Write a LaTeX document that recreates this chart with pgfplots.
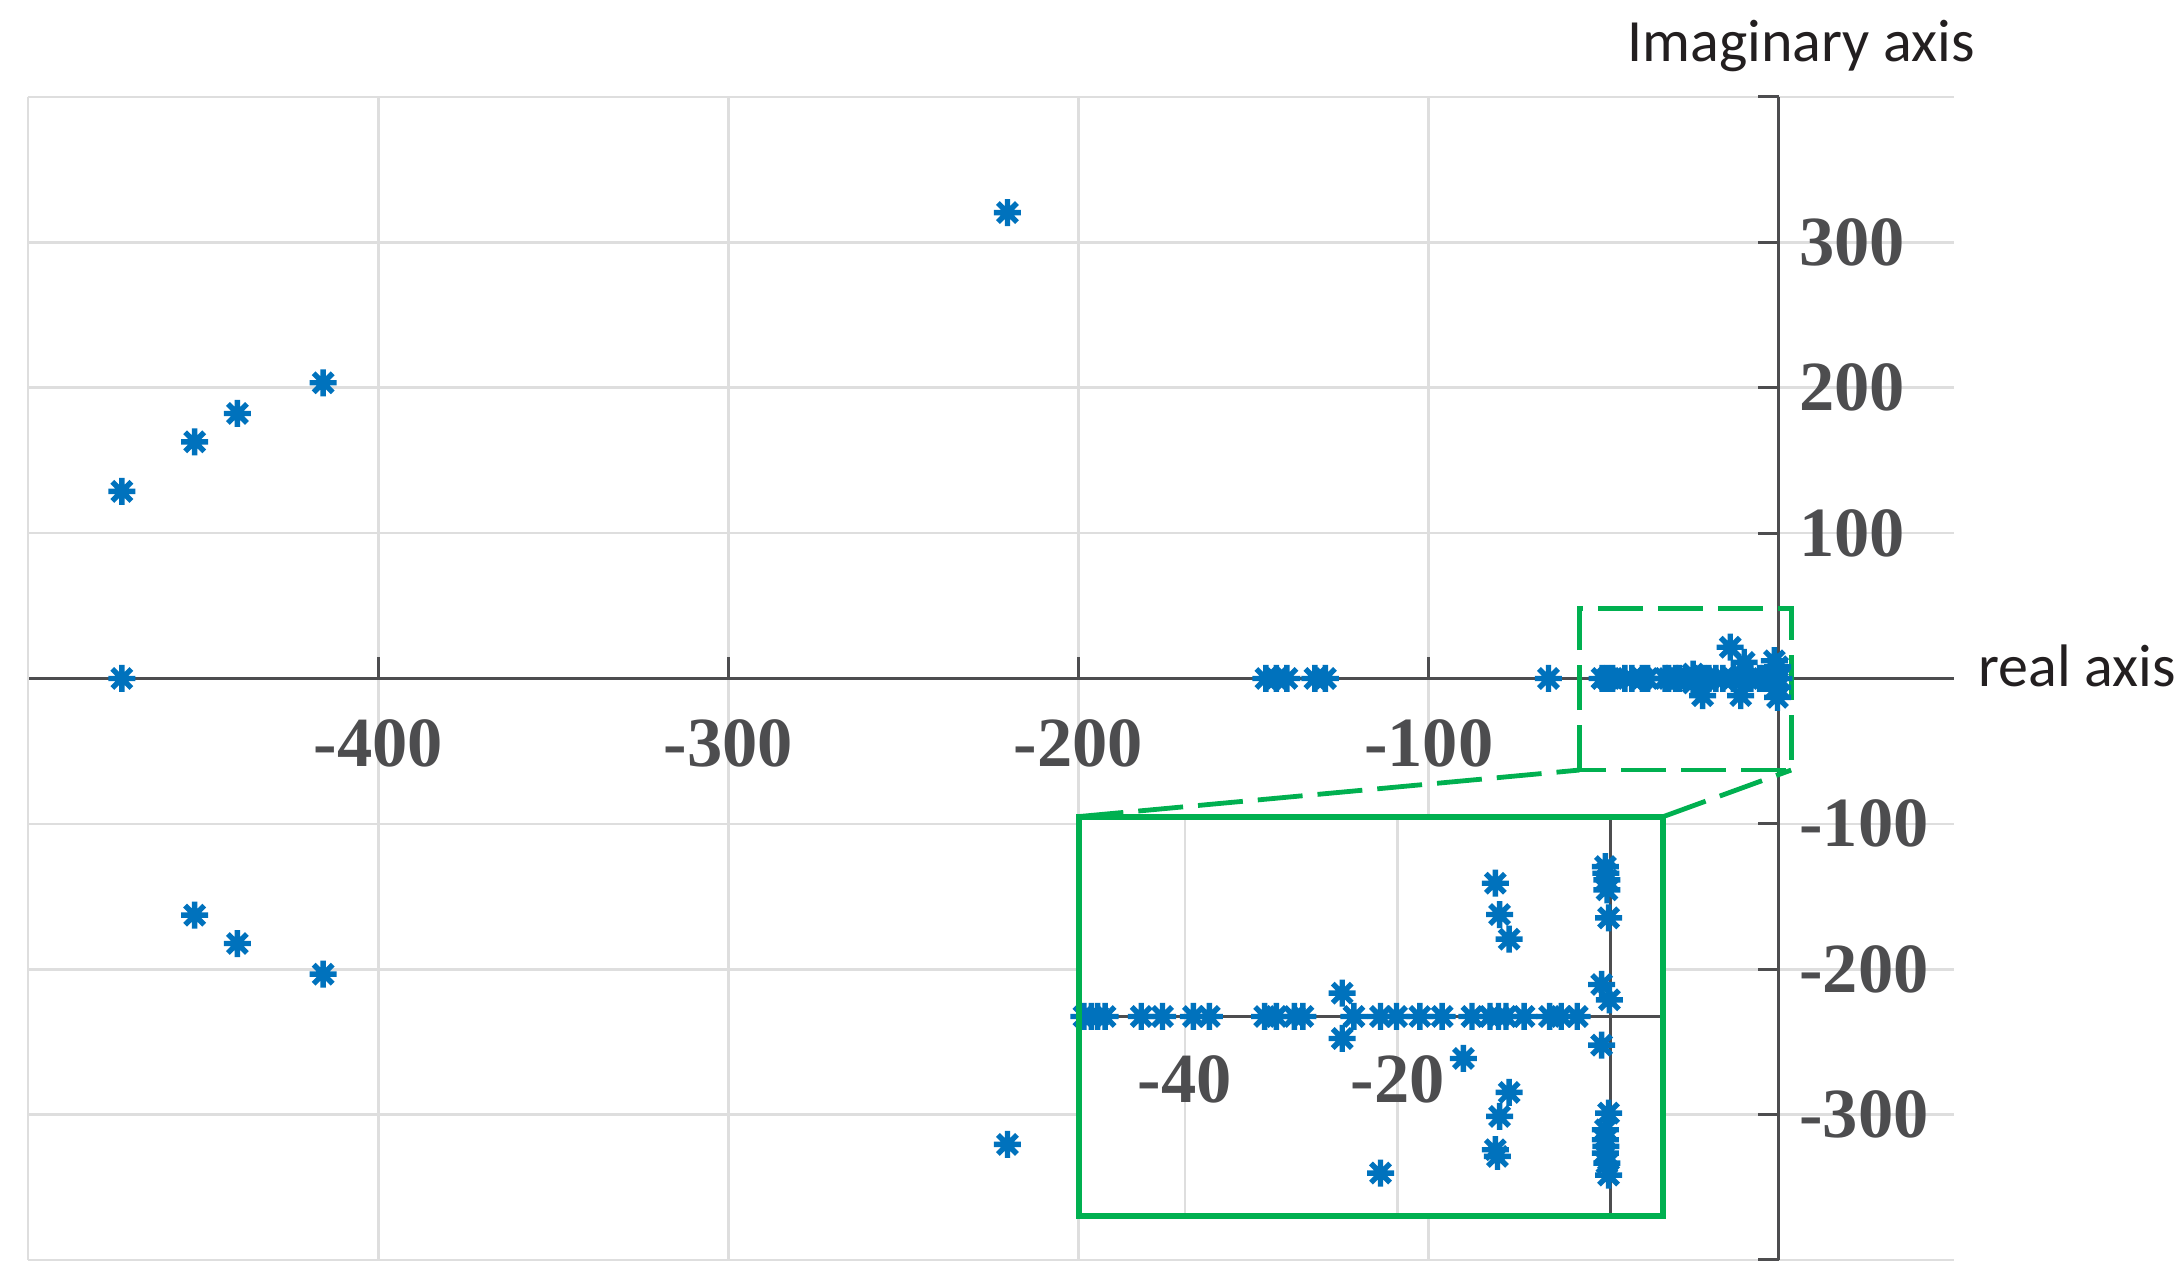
\documentclass[border=0pt]{standalone}
\usepackage{fontspec}
\usepackage{pgfplots}
\pgfplotsset{compat=1.18}
\setmainfont{Carlito}
\newfontfamily\tnr{Liberation Serif}
\definecolor{mblue}{RGB}{0,114,189}
\definecolor{zgreen}{RGB}{0,176,80}
\definecolor{axgray}{RGB}{77,77,79}
\definecolor{gridgray}{RGB}{222,222,222}
\definecolor{txt}{RGB}{35,31,32}

\pgfdeclareplotmark{ast8}{%
  \pgfpathmoveto{\pgfqpoint{0pt}{\pgfplotmarksize}}%
  \pgfpathlineto{\pgfqpoint{0pt}{-\pgfplotmarksize}}%
  \pgfpathmoveto{\pgfqpoint{\pgfplotmarksize}{0pt}}%
  \pgfpathlineto{\pgfqpoint{-\pgfplotmarksize}{0pt}}%
  \pgfpathmoveto{\pgfqpoint{0.7071\pgfplotmarksize}{0.7071\pgfplotmarksize}}%
  \pgfpathlineto{\pgfqpoint{-0.7071\pgfplotmarksize}{-0.7071\pgfplotmarksize}}%
  \pgfpathmoveto{\pgfqpoint{-0.7071\pgfplotmarksize}{0.7071\pgfplotmarksize}}%
  \pgfpathlineto{\pgfqpoint{0.7071\pgfplotmarksize}{-0.7071\pgfplotmarksize}}%
  \pgfusepathqstroke}

\pgfplotsset{
  tlfont/.style={font=\tnr\bfseries\fontsize{23.5}{27}\selectfont, text=axgray},
  poles/.style={only marks, mark=ast8, mark size=4.5pt, color=mblue,
    mark options={line width=1.8pt, line cap=butt}},
}

\begin{document}
\begin{tikzpicture}
% ---------- axis A: grid + real axis ----------
\begin{axis}[name=A, at={(0,0)}, anchor=south west, scale only axis,
  width=642pt, height=387.67pt,
  xmin=-500, xmax=50, ymin=-400, ymax=400,
  axis lines=middle,
  axis line style={-},
  x axis line style={axgray, line width=1pt, -},
  y axis line style={draw=none},
  tick align=inside, major tick length=7pt,
  xtick={-400,-300,-200,-100}, xticklabels={-400,-300,-200,-100},
  extra x ticks={-500}, extra x tick labels={}, extra x tick style={major tick length=0pt},
  ytick={-400,-300,-200,-100,100,200,300,400}, yticklabels={},
  ytick style={draw=none}, xtick style={axgray, line width=1pt},
  grid=major, major grid style={gridgray, line width=0.9pt},
  xticklabel style={tlfont, anchor=north, yshift=-10.2pt},
]
\end{axis}
% ---------- axis B: imaginary axis + data ----------
\begin{axis}[name=B, at={(0,0)}, anchor=south west, scale only axis,
  width=583.64pt, height=387.67pt,
  xmin=-500, xmax=0, ymin=-400, ymax=400, clip=false,
  axis x line=none, axis y line=right,
  axis line style={axgray, line width=1pt, -},
  xtick=\empty,
  tick align=inside, major tick length=7pt,
  ytick style={axgray, line width=1pt},
  ytick={-400,-300,-200,-100,100,200,300,400},
  yticklabels={,-300,-200,-100,100,200,300,},
  yticklabel style={tlfont, xshift=3.3pt},
]
\addplot[poles] coordinates {
  (-473.2,128.7) (-473.2,0) (-452.4,162.8) (-452.4,-162.8)
  (-440.2,182.3) (-440.2,-182.3) (-415.7,203.4) (-415.7,-203.4)
  (-220.3,320.5) (-220.3,-320.5)
  (-146.5,0) (-143.5,0) (-140.5,0) (-132.5,0) (-129.5,0) (-65.8,0)
};
\addplot[poles] coordinates {
  (-50.5,0) (-49,0) (-47.5,0) (-44,0) (-42,0) (-39,0) (-37.5,0)
  (-32.5,0) (-31.5,0) (-29.5,0) (-28.5,0) (-24,0) (-21.5,0) (-20,0)
  (-18,0) (-16,0) (-13,0) (-11,0) (-10,0) (-8,0) (-5.5,0) (-4.5,0)
  (-3,0) (-1.5,0) (-0.5,0) (0,0)
  (-13.9,21.5) (-9.9,11.1) (-1.3,12.2) (-0.4,8)
  (-21.8,-11.8) (-10.9,-11.8) (-0.4,-13) (-0.4,-6)
  (-24.5,3) (-24.5,-3)
};
\coordinate (insSW) at (axis cs:-200,-370);
\draw[zgreen, line width=1.6pt, dash pattern=on 15pt off 5pt]
  (axis cs:-57,-63) rectangle (axis cs:3.5,48);
\draw[zgreen, line width=1.6pt, dash pattern=on 15pt off 5pt]
  (axis cs:-200,-95) -- (axis cs:-57,-63);
\draw[zgreen, line width=1.6pt, dash pattern=on 15pt off 5pt]
  (axis cs:-33,-95) -- (axis cs:3.5,-63);
\node[anchor=base, yshift=11.7pt, text=txt, font=\fontsize{20}{24}\selectfont]
  at (axis cs:6.3,400) {Imaginary axis};
\node[anchor=base west, xshift=4.7pt, yshift=-2.7pt, text=txt, font=\fontsize{20}{24}\selectfont]
  at (axis cs:50,0) {real axis};
\end{axis}
% ---------- inset ----------
\begin{axis}[name=C, at={(insSW)}, anchor=south west, scale only axis,
  width=194.93pt, height=133.26pt,
  xmin=-50, xmax=5, ymin=-30, ymax=30, clip=false,
  axis lines=middle,
  axis line style={axgray, line width=1pt, -},
  axis background/.style={fill=white},
  xtick={-40,-20}, xticklabels={-40,-20}, ytick=\empty,
  major tick length=0pt,
  xmajorgrids, major grid style={gridgray, line width=0.9pt},
  xticklabel style={tlfont, anchor=north, yshift=-9.5pt},
]
\addplot[poles] coordinates {
  (-49.5,0) (-48.8,0) (-48.2,0) (-47.5,0) (-44.1,0) (-42.1,0) (-39.2,0) (-37.7,0)
  (-32.5,0) (-31.4,0) (-29.7,0) (-28.9,0) (-24.1,0) (-21.6,0) (-20.1,0)
  (-17.9,0) (-15.8,0) (-13,0) (-11.3,0) (-10.5,0) (-9.8,0) (-8.1,0)
  (-5.7,0) (-4.6,0) (-3.1,0)
  (-25.2,3.5) (-25.2,-3.3) (-13.8,-6.3) (-21.6,-23.5)
  (-10.8,20) (-10.4,15.3) (-9.5,11.6)
  (-9.5,-11.4) (-10.4,-15) (-10.8,-20) (-10.6,-21)
  (-0.45,22.5) (-0.4,21.5) (-0.3,20.5) (-0.3,19) (-0.15,14.8)
  (-0.8,4.8) (-0.07,2.5) (-0.8,-4.3)
  (-0.15,-14.5) (-0.45,-17) (-0.45,-18.5) (-0.4,-19.5) (-0.45,-20.5)
  (-0.3,-22) (-0.15,-23.8)
};
\end{axis}
\draw[zgreen, line width=2pt] (C.south west) rectangle (C.north east);
\pgfresetboundingbox
\path[use as bounding box] ([xshift=-9.33pt,yshift=-9pt]A.south west)
  rectangle ([xshift=73.67pt,yshift=32.33pt]A.north east);
\end{tikzpicture}
\end{document}
